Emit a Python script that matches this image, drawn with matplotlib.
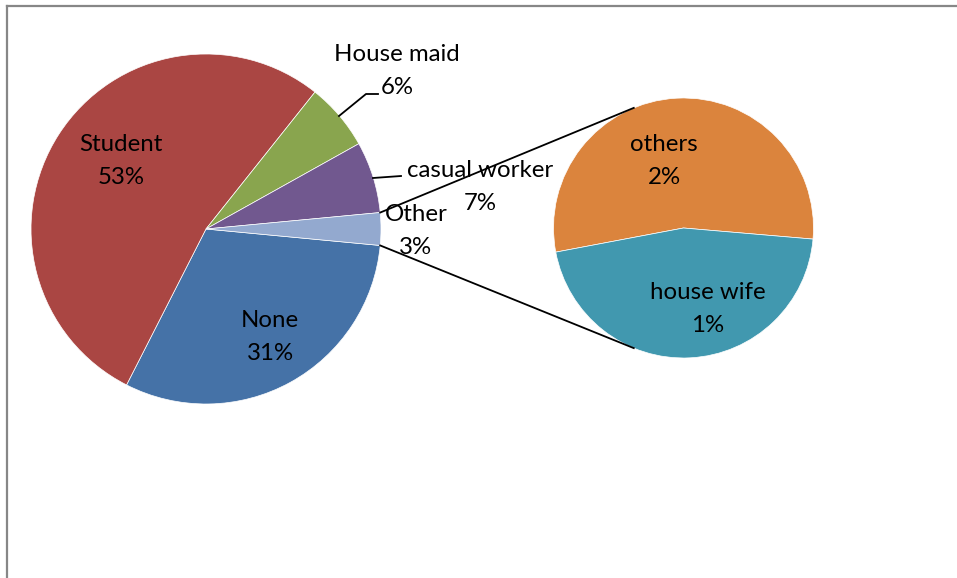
import numpy as np
import matplotlib.pyplot as plt
from matplotlib.lines import Line2D

plt.rcParams['font.family'] = ['Lato', 'DejaVu Sans']

# main pie, drawn clockwise: None, Student, House maid, casual worker, Other
main_labels = ['None', 'Student', 'House maid', 'casual worker', 'Other']
main_values = [31.0, 53.2, 6.2, 6.6, 3.0]
main_colors = ['#4572A7', '#AA4643', '#89A54E', '#71588F', '#93A9CF']

# breakdown of "Other"
sub_labels = ['others', 'house wife']
sub_values = [1.63, 1.37]
sub_colors = ['#DB843D', '#4198AF']

W, H = 957, 578
fig = plt.figure(figsize=(W / 100, H / 100), dpi=100)
ax = fig.add_axes([0, 0, 1, 1])

main_c, main_r = (206, H - 229), 175
sub_c, sub_r = (683.5, H - 228), 130

# start so that the Other slice is centred on the right-hand side
other_span = main_values[-1] / sum(main_values) * 360
wedges, _ = ax.pie(main_values, colors=main_colors, center=main_c, radius=main_r,
                   counterclock=False, startangle=-other_span / 2,
                   wedgeprops=dict(edgecolor='white', linewidth=0.5))
sub_wedges, _ = ax.pie(sub_values, colors=sub_colors, center=sub_c, radius=sub_r,
                       counterclock=False, startangle=190.7,
                       wedgeprops=dict(edgecolor='white', linewidth=0.5))

ax.set_xlim(0, W)
ax.set_ylim(0, H)
ax.set_aspect('equal')
ax.axis('off')


def pct(v):
    return '%d%%' % round(v)


def label(x, y, name, value, dx=0):
    # category name on top, percentage 33px below it
    ax.text(x, H - y + 16.5, name, fontsize=17.3, ha='center', va='center')
    ax.text(x + dx, H - y - 16.5, pct(value), fontsize=17.3, ha='center', va='center')


label(121, 161, main_labels[1], main_values[1])
label(270, 337, main_labels[0], main_values[0])
label(397, 71, main_labels[2], main_values[2])
label(480, 187, main_labels[3], main_values[3])
label(416, 231, main_labels[4], main_values[4])
label(664, 161, sub_labels[0], sub_values[0])
label(708, 309, sub_labels[1], sub_values[1])

# leader lines for the small outside labels
ax.plot([339, 366, 378], [H - 116, H - 94, H - 94], color='black', lw=1.3)
ax.plot([373, 401], [H - 178, H - 176], color='black', lw=1.3)

# connectors from the Other slice to the secondary pie
ow = wedges[-1]
a1, a2 = np.radians(ow.theta1), np.radians(ow.theta2)
p_top = (main_c[0] + main_r * np.cos(a2), main_c[1] + main_r * np.sin(a2))
p_bot = (main_c[0] + main_r * np.cos(a1), main_c[1] + main_r * np.sin(a1))
b_top, b_bot = np.radians(112.5), np.radians(247.5)
q_top = (sub_c[0] + sub_r * np.cos(b_top), sub_c[1] + sub_r * np.sin(b_top))
q_bot = (sub_c[0] + sub_r * np.cos(b_bot), sub_c[1] + sub_r * np.sin(b_bot))
ax.plot([p_top[0], q_top[0]], [p_top[1], q_top[1]], color='black', lw=1.3, zorder=5)
ax.plot([p_bot[0], q_bot[0]], [p_bot[1], q_bot[1]], color='black', lw=1.3, zorder=5)

# chart area border (top and left edges)
bx, by = 6.5 / W, 1 - 5.5 / H
fig.add_artist(Line2D([bx, 1], [by, by], color='#878787', lw=1.6))
fig.add_artist(Line2D([bx, bx], [0, by], color='#878787', lw=1.6))

fig.savefig('out.png', dpi=100)
